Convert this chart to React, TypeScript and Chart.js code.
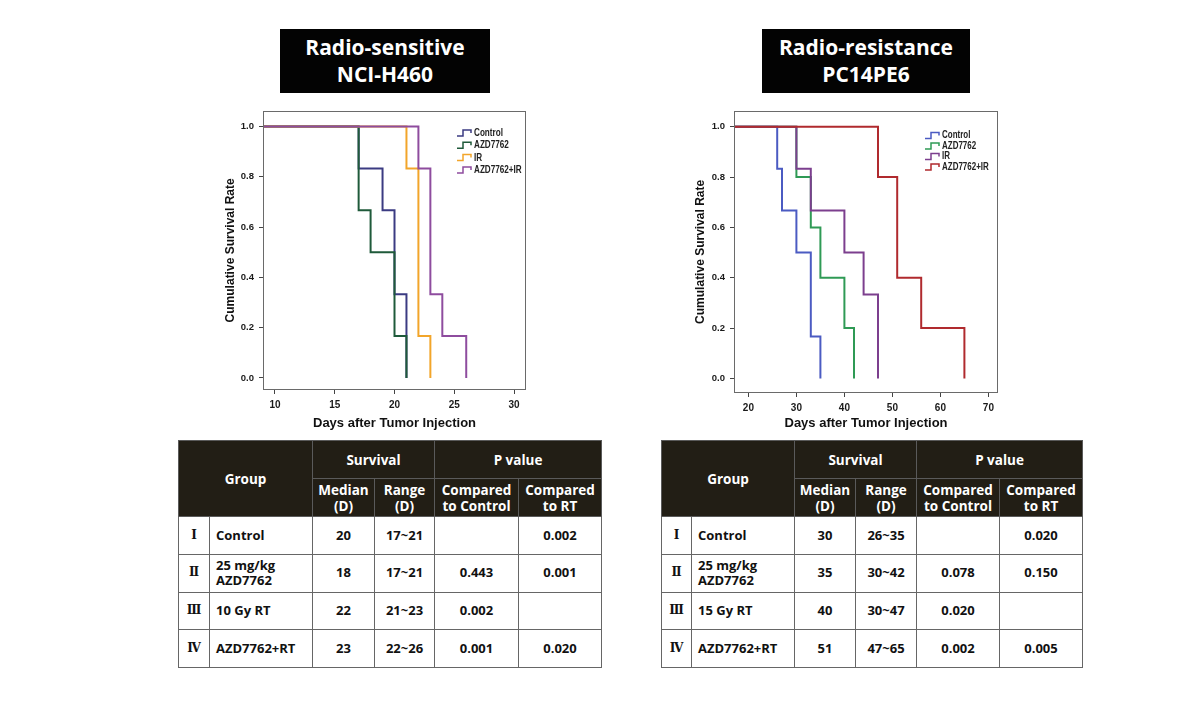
import React, { useEffect, useRef } from "react";
import { Chart, registerables } from "chart.js";

Chart.register(...registerables);

// ---------- Kaplan-Meier data: NCI-H460 (radio-sensitive) ----------
const H460_GROUPS = ["Control", "AZD7762", "IR", "AZD7762+IR"];
const H460_COLORS = ["#3b3b82", "#1f5a3a", "#f2a52a", "#8e4c9e"];
const H460_CONTROL_DAYS = [17, 19, 20, 21];
const H460_CONTROL_SURV = [0.833, 0.667, 0.333, 0];
const H460_AZD_DAYS = [17, 18, 20, 21];
const H460_AZD_SURV = [0.667, 0.5, 0.167, 0];
const H460_IR_DAYS = [21, 22, 23];
const H460_IR_SURV = [0.833, 0.167, 0];
const H460_COMBO_DAYS = [22, 23, 24, 26];
const H460_COMBO_SURV = [0.833, 0.333, 0.167, 0];
const H460_X_TICKS = [10, 15, 20, 25, 30];

// ---------- Kaplan-Meier data: PC14PE6 (radio-resistance) ----------
const PC14_GROUPS = ["Control", "AZD7762", "IR", "AZD7762+IR"];
const PC14_COLORS = ["#4b5bc2", "#2f9a55", "#7c3f8e", "#b02a2e"];
const PC14_CONTROL_DAYS = [26, 27, 30, 33, 35];
const PC14_CONTROL_SURV = [0.833, 0.667, 0.5, 0.167, 0];
const PC14_AZD_DAYS = [30, 33, 35, 40, 42];
const PC14_AZD_SURV = [0.8, 0.6, 0.4, 0.2, 0];
const PC14_IR_DAYS = [30, 33, 40, 44, 47];
const PC14_IR_SURV = [0.833, 0.667, 0.5, 0.333, 0];
const PC14_COMBO_DAYS = [47, 51, 56, 65];
const PC14_COMBO_SURV = [0.8, 0.4, 0.2, 0];
const PC14_X_TICKS = [20, 30, 40, 50, 60, 70];

const Y_TICKS = [0, 0.2, 0.4, 0.6, 0.8, 1.0];
const START_DAY = 0;
const START_SURV = 1.0;

// ---------- Table data ----------
const ROMAN = ["Ⅰ", "Ⅱ", "Ⅲ", "Ⅳ"];
const H460_ROW_GROUPS = ["Control", "25 mg/kg\nAZD7762", "10 Gy RT", "AZD7762+RT"];
const H460_MEDIAN = ["20", "18", "22", "23"];
const H460_RANGE = ["17~21", "17~21", "21~23", "22~26"];
const H460_P_CONTROL = ["", "0.443", "0.002", "0.001"];
const H460_P_RT = ["0.002", "0.001", "", "0.020"];

const PC14_ROW_GROUPS = ["Control", "25 mg/kg\nAZD7762", "15 Gy RT", "AZD7762+RT"];
const PC14_MEDIAN = ["30", "35", "40", "51"];
const PC14_RANGE = ["26~35", "30~42", "30~47", "47~65"];
const PC14_P_CONTROL = ["", "0.078", "0.020", "0.002"];
const PC14_P_RT = ["0.020", "0.150", "", "0.005"];

const FONT_AXIS = "'Liberation Sans', Arial, sans-serif";
const FONT_TABLE = "'Open Sans', 'Noto Sans', sans-serif";

function kmPoints(days: number[], surv: number[]) {
  return [{ x: START_DAY, y: START_SURV }, ...days.map((d, i) => ({ x: d, y: surv[i] }))];
}

const framePlugin = {
  id: "frame",
  afterDraw(chart: any) {
    const { ctx, chartArea } = chart;
    const l = Math.round(chartArea.left) + 0.5;
    const t = Math.round(chartArea.top) + 0.5;
    const r = Math.round(chartArea.right) - 0.5;
    const b = Math.round(chartArea.bottom) - 0.5;
    ctx.save();
    ctx.strokeStyle = "#6a6a6a";
    ctx.lineWidth = 1;
    ctx.strokeRect(l, t, r - l, b - t);
    ctx.restore();
  },
};

const kmLegendPlugin = {
  id: "kmLegend",
  afterDraw(chart: any, _args: any, opts: any) {
    const { ctx, chartArea } = chart;
    const x0 = chartArea.right + opts.dx;
    ctx.save();
    chart.data.datasets.forEach((ds: any, i: number) => {
      const cy = chartArea.top + opts.dy + i * opts.rowH;
      ctx.strokeStyle = ds.borderColor;
      ctx.lineWidth = 1.5;
      ctx.beginPath();
      ctx.moveTo(x0, cy + 3);
      ctx.lineTo(x0 + 6, cy + 3);
      ctx.lineTo(x0 + 6, cy - 3);
      ctx.lineTo(x0 + 14, cy - 3);
      ctx.lineTo(x0 + 14, cy);
      ctx.stroke();
      ctx.save();
      ctx.translate(x0 + 17, cy);
      ctx.scale(opts.squeeze, 1);
      ctx.fillStyle = "#222";
      ctx.font = opts.font;
      ctx.textBaseline = "middle";
      ctx.textAlign = "left";
      ctx.fillText(ds.label, 0, 0);
      ctx.restore();
    });
    ctx.restore();
  },
};

type Panel = {
  left: number;
  top: number;
  w: number;
  h: number;
  yAxisWidth: number;
  xAxisHeight: number;
  padTop: number;
  padRight: number;
  xMin: number;
  xMax: number;
  yMin: number;
  yMax: number;
  xTicks: number[];
  groups: string[];
  colors: string[];
  days: number[][];
  surv: number[][];
  legend: { dx: number; dy: number; rowH: number; font: string; squeeze: number };
};

const LEFT_PANEL: Panel = {
  left: 215,
  top: 100,
  w: 320,
  h: 335,
  yAxisWidth: 48,
  xAxisHeight: 45,
  padTop: 7,
  padRight: 9,
  xMin: 9,
  xMax: 31,
  yMin: -0.048,
  yMax: 1.063,
  xTicks: H460_X_TICKS,
  groups: H460_GROUPS,
  colors: H460_COLORS,
  days: [H460_CONTROL_DAYS, H460_AZD_DAYS, H460_IR_DAYS, H460_COMBO_DAYS],
  surv: [H460_CONTROL_SURV, H460_AZD_SURV, H460_IR_SURV, H460_COMBO_SURV],
  legend: { dx: -69, dy: 22.3, rowH: 12.3, font: "bold 11px 'Liberation Sans', Arial, sans-serif", squeeze: 0.74 },
};

const RIGHT_PANEL: Panel = {
  left: 685,
  top: 100,
  w: 322,
  h: 335,
  yAxisWidth: 49,
  xAxisHeight: 42,
  padTop: 7,
  padRight: 9,
  xMin: 17,
  xMax: 72,
  yMin: -0.058,
  yMax: 1.064,
  xTicks: PC14_X_TICKS,
  groups: PC14_GROUPS,
  colors: PC14_COLORS,
  days: [PC14_CONTROL_DAYS, PC14_AZD_DAYS, PC14_IR_DAYS, PC14_COMBO_DAYS],
  surv: [PC14_CONTROL_SURV, PC14_AZD_SURV, PC14_IR_SURV, PC14_COMBO_SURV],
  legend: { dx: -73, dy: 24.7, rowH: 10.5, font: "bold 10.5px 'Liberation Sans', Arial, sans-serif", squeeze: 0.76 },
};

function KMChart({ p }: { p: Panel }) {
  const ref = useRef<HTMLCanvasElement>(null);
  useEffect(() => {
    const datasets = p.groups.map((g, i) => ({
      label: g,
      data: kmPoints(p.days[i], p.surv[i]),
      borderColor: p.colors[i],
      backgroundColor: p.colors[i],
      borderWidth: 2,
      pointRadius: 0,
      stepped: "before" as const,
      fill: false,
      order: p.groups.length - i,
    }));
    const chart = new Chart(ref.current!, {
      type: "line",
      data: { datasets },
      options: {
        animation: false,
        responsive: false,
        layout: { padding: { top: p.padTop, right: p.padRight, left: 0, bottom: 0 } },
        plugins: {
          legend: { display: false },
          tooltip: { enabled: false },
          kmLegend: p.legend,
        } as any,
        scales: {
          x: {
            type: "linear",
            min: p.xMin,
            max: p.xMax,
            afterBuildTicks: (s: any) => {
              s.ticks = p.xTicks.map((v) => ({ value: v }));
            },
            afterFit: (s: any) => {
              s.height = p.xAxisHeight;
            },
            grid: { display: true, drawOnChartArea: false, drawTicks: true, tickLength: 4, color: "#444" },
            border: { display: false },
            ticks: {
              color: "#1a1a1a",
              padding: 5,
              maxRotation: 0,
              font: { family: FONT_AXIS, size: 10, weight: "bold" },
              callback: (v: any) => String(v),
            },
            title: {
              display: true,
              text: "Days after Tumor Injection",
              color: "#111",
              font: { family: FONT_AXIS, size: 13, weight: "bold" },
              padding: { top: 0, bottom: 4 },
            },
          },
          y: {
            type: "linear",
            min: p.yMin,
            max: p.yMax,
            afterBuildTicks: (s: any) => {
              s.ticks = Y_TICKS.map((v) => ({ value: v }));
            },
            afterFit: (s: any) => {
              s.width = p.yAxisWidth;
            },
            grid: { display: true, drawOnChartArea: false, drawTicks: true, tickLength: 4, color: "#444" },
            border: { display: false },
            ticks: {
              color: "#1a1a1a",
              padding: 5,
              font: { family: FONT_AXIS, size: 9.5, weight: "bold" },
              callback: (v: any) => Number(v).toFixed(1),
            },
            title: {
              display: true,
              text: "Cumulative Survival Rate",
              color: "#111",
              font: { family: FONT_AXIS, size: 12, weight: "bold" },
              padding: { top: 8, bottom: 0 },
            },
          },
        },
      } as any,
      plugins: [framePlugin, kmLegendPlugin],
    });
    return () => chart.destroy();
  }, [p]);
  return (
    <canvas
      ref={ref}
      width={p.w}
      height={p.h}
      style={{ position: "absolute", left: p.left, top: p.top, width: p.w, height: p.h }}
    />
  );
}

function TitleBox({ left, top, width, lines }: { left: number; top: number; width: number; lines: string[] }) {
  return (
    <div
      style={{
        position: "absolute",
        left,
        top,
        width,
        height: 64,
        background: "#030303",
        color: "#fff",
        fontFamily: FONT_TABLE,
        fontWeight: 700,
        fontSize: 21,
        lineHeight: "27px",
        textAlign: "center",
        boxSizing: "border-box",
        paddingTop: 5,
      }}
    >
      {lines.map((l, i) => (
        <div key={i}>{l}</div>
      ))}
    </div>
  );
}

type TableProps = {
  left: number;
  top: number;
  cols: number[];
  groups: string[];
  median: string[];
  range: string[];
  pCtrl: string[];
  pRT: string[];
};

function SurvivalTable({ left, top, cols, groups, median, range, pCtrl, pRT }: TableProps) {
  const total = cols.reduce((a, b) => a + b, 0);
  const th: React.CSSProperties = {
    background: "#221e15",
    color: "#fff",
    fontWeight: 700,
    fontSize: 13.5,
    lineHeight: "16px",
    textAlign: "center",
    border: "1px solid #5a5a5a",
    padding: 0,
    whiteSpace: "pre-line",
  };
  const td: React.CSSProperties = {
    color: "#111",
    fontWeight: 700,
    fontSize: 13,
    lineHeight: "15.5px",
    textAlign: "center",
    border: "1px solid #666",
    padding: 0,
    whiteSpace: "pre-line",
    background: "#fff",
  };
  return (
    <table
      style={{
        position: "absolute",
        left,
        top,
        width: total,
        borderCollapse: "collapse",
        tableLayout: "fixed",
        fontFamily: FONT_TABLE,
      }}
    >
      <colgroup>
        {cols.map((c, i) => (
          <col key={i} style={{ width: c }} />
        ))}
      </colgroup>
      <thead>
        <tr style={{ height: 38 }}>
          <th style={th} colSpan={2} rowSpan={2}>
            Group
          </th>
          <th style={th} colSpan={2}>
            Survival
          </th>
          <th style={th} colSpan={2}>
            P value
          </th>
        </tr>
        <tr style={{ height: 38 }}>
          <th style={th}>{"Median\n(D)"}</th>
          <th style={th}>{"Range\n(D)"}</th>
          <th style={th}>{"Compared\nto Control"}</th>
          <th style={th}>{"Compared\nto RT"}</th>
        </tr>
      </thead>
      <tbody>
        {groups.map((g, i) => (
          <tr key={i} style={{ height: 37.75 }}>
            <td style={{ ...td, fontFamily: "'DejaVu Serif', 'Noto Sans CJK KR', serif", fontSize: 12 }}>{ROMAN[i]}</td>
            <td style={{ ...td, textAlign: "left", paddingLeft: 6 }}>{g}</td>
            <td style={td}>{median[i]}</td>
            <td style={td}>{range[i]}</td>
            <td style={td}>{pCtrl[i]}</td>
            <td style={td}>{pRT[i]}</td>
          </tr>
        ))}
      </tbody>
    </table>
  );
}

export default function App() {
  return (
    <div style={{ position: "absolute", left: 0, top: 0, width: 1190, height: 714, background: "#fff", overflow: "hidden" }}>
      <TitleBox left={280} top={29} width={210} lines={["Radio-sensitive", "NCI-H460"]} />
      <TitleBox left={762} top={29} width={208} lines={["Radio-resistance", "PC14PE6"]} />
      <KMChart p={LEFT_PANEL} />
      <KMChart p={RIGHT_PANEL} />
      <SurvivalTable
        left={178}
        top={440}
        cols={[31, 103, 62, 60, 84, 83]}
        groups={H460_ROW_GROUPS}
        median={H460_MEDIAN}
        range={H460_RANGE}
        pCtrl={H460_P_CONTROL}
        pRT={H460_P_RT}
      />
      <SurvivalTable
        left={661}
        top={440}
        cols={[30, 103, 61, 61, 83, 83]}
        groups={PC14_ROW_GROUPS}
        median={PC14_MEDIAN}
        range={PC14_RANGE}
        pCtrl={PC14_P_CONTROL}
        pRT={PC14_P_RT}
      />
    </div>
  );
}
